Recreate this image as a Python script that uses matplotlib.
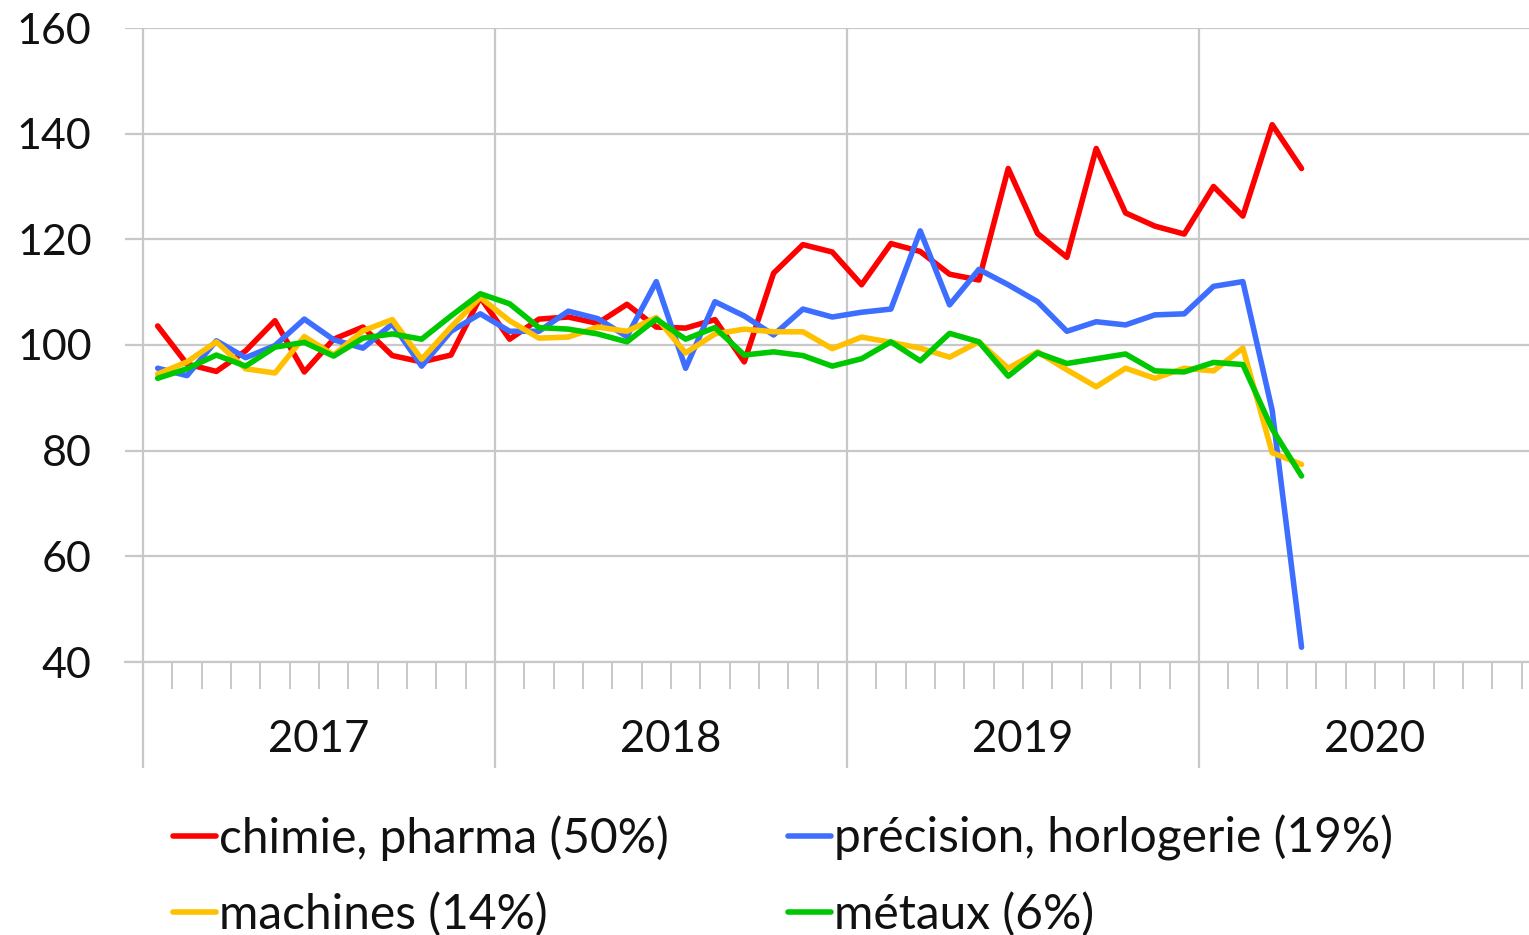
import matplotlib
matplotlib.use("Agg")
import matplotlib.pyplot as plt
import matplotlib.transforms as mtransforms
import numpy as np

plt.rcParams['font.family'] = ['Lato', 'DejaVu Sans']

years = ["2017", "2018", "2019", "2020"]

chimie = [103.6, 96.4, 95.0, 98.9, 104.6, 94.9, 101.1, 103.4, 98.0, 96.8, 98.1, 109.0,
          101.1, 104.9, 105.3, 104.1, 107.7, 103.4, 103.2, 104.8, 96.8, 113.6, 119.0, 117.6,
          111.4, 119.2, 117.7, 113.4, 112.3, 133.4, 121.1, 116.6, 137.2, 125.0, 122.5, 121.0,
          130.0, 124.4, 141.7, 133.4]
precision = [95.6, 94.2, 100.8, 97.6, 99.9, 104.9, 101.0, 99.4, 104.0, 96.0, 102.6, 105.9,
             102.6, 102.6, 106.4, 105.0, 101.6, 112.0, 95.6, 108.2, 105.5, 101.9, 106.8, 105.3,
             106.2, 106.8, 121.6, 107.6, 114.3, 111.4, 108.2, 102.6, 104.4, 103.8, 105.7, 105.9,
             111.1, 112.0, 87.6, 42.8]
machines = [94.5, 96.8, 100.6, 95.5, 94.7, 101.6, 98.1, 102.7, 104.8, 97.3, 103.4, 109.0,
            104.6, 101.3, 101.5, 103.4, 102.6, 105.2, 98.5, 102.1, 103.0, 102.5, 102.5, 99.3,
            101.5, 100.5, 99.4, 97.7, 100.6, 95.6, 98.7, 95.3, 92.1, 95.6, 93.7, 95.6,
            95.1, 99.4, 79.6, 77.4]
metaux = [93.7, 95.5, 98.1, 96.0, 99.6, 100.5, 97.9, 101.3, 102.1, 101.1, 105.5, 109.7,
          107.8, 103.3, 103.0, 102.1, 100.6, 104.9, 101.1, 103.3, 98.1, 98.7, 98.0, 96.0,
          97.4, 100.6, 97.0, 102.2, 100.6, 94.1, 98.5, 96.5, 97.4, 98.3, 95.1, 94.9,
          96.7, 96.3, 84.1, 75.2]

labels = ["chimie, pharma (50%)", "précision, horlogerie (19%)",
          "machines (14%)", "métaux (6%)"]
colors = ["#FF0000", "#3D6EFF", "#FFC000", "#00C800"]

W, H = 1529, 935
fig = plt.figure(figsize=(W / 100, H / 100), dpi=100)
ax = fig.add_axes([125 / W, 1 - 662 / H, (1529 - 125) / W, (662 - 28) / H])

x = np.arange(len(chimie)) + 0.5
series = [chimie, precision, machines, metaux]
handles = []
for s, c, lab in zip(series, colors, labels):
    h, = ax.plot(x, s, color=c, lw=4.0, label=lab, solid_joinstyle='round',
                 solid_capstyle='round', zorder=3)
    handles.append(h)

px_per_month = 29.33
ax.set_xticks([0, 12, 24, 36])
ax.set_xticks([m for m in range(1, 48) if m % 12 != 0], minor=True)
ax.set_xlim(-18 / px_per_month, (1529 - 143) / px_per_month)
ax.set_ylim(40, 160)
ax.set_yticks(np.arange(40, 161, 20))
ax.tick_params(axis='y', length=0, pad=24, labelsize=31, labelcolor='#111111')
ax.grid(axis='y', color='#C8C8C8', lw=1.6, zorder=1)

for s in ['top', 'right', 'left']:
    ax.spines[s].set_visible(False)
ax.spines['bottom'].set_color('#C8C8C8')
ax.spines['bottom'].set_linewidth(1.6)

ax.tick_params(axis='x', which='major', length=106 * 0.72, width=1.6, color='#C8C8C8',
               direction='out', labelbottom=False)
ax.tick_params(axis='x', which='minor', length=27 * 0.72, width=1.4, color='#C8C8C8',
               direction='out')
for xv in [0, 12, 24, 36]:
    ax.axvline(xv, color='#C8C8C8', lw=1.6, zorder=1)

trans = mtransforms.blended_transform_factory(ax.transData, fig.transFigure)
for i, yr in enumerate(years):
    ax.text(6 + 12 * i, 1 - 740 / H, yr, transform=trans, ha='center', va='center',
            fontsize=31.5, color='#111111')

leg_kw = dict(loc='center left', frameon=False, fontsize=34.5, handlelength=0.9,
              handletextpad=0.06, labelspacing=0.64, borderaxespad=0, borderpad=0,
              labelcolor='#111111')
leg1 = fig.legend([handles[0], handles[2]], [labels[0], labels[2]],
                  bbox_to_anchor=(173 / W, 1 - 876 / H), **leg_kw)
leg2 = fig.legend([handles[1], handles[3]], [labels[1], labels[3]],
                  bbox_to_anchor=(788 / W, 1 - 876 / H), **leg_kw)

fig.savefig("out.png", dpi=100)
